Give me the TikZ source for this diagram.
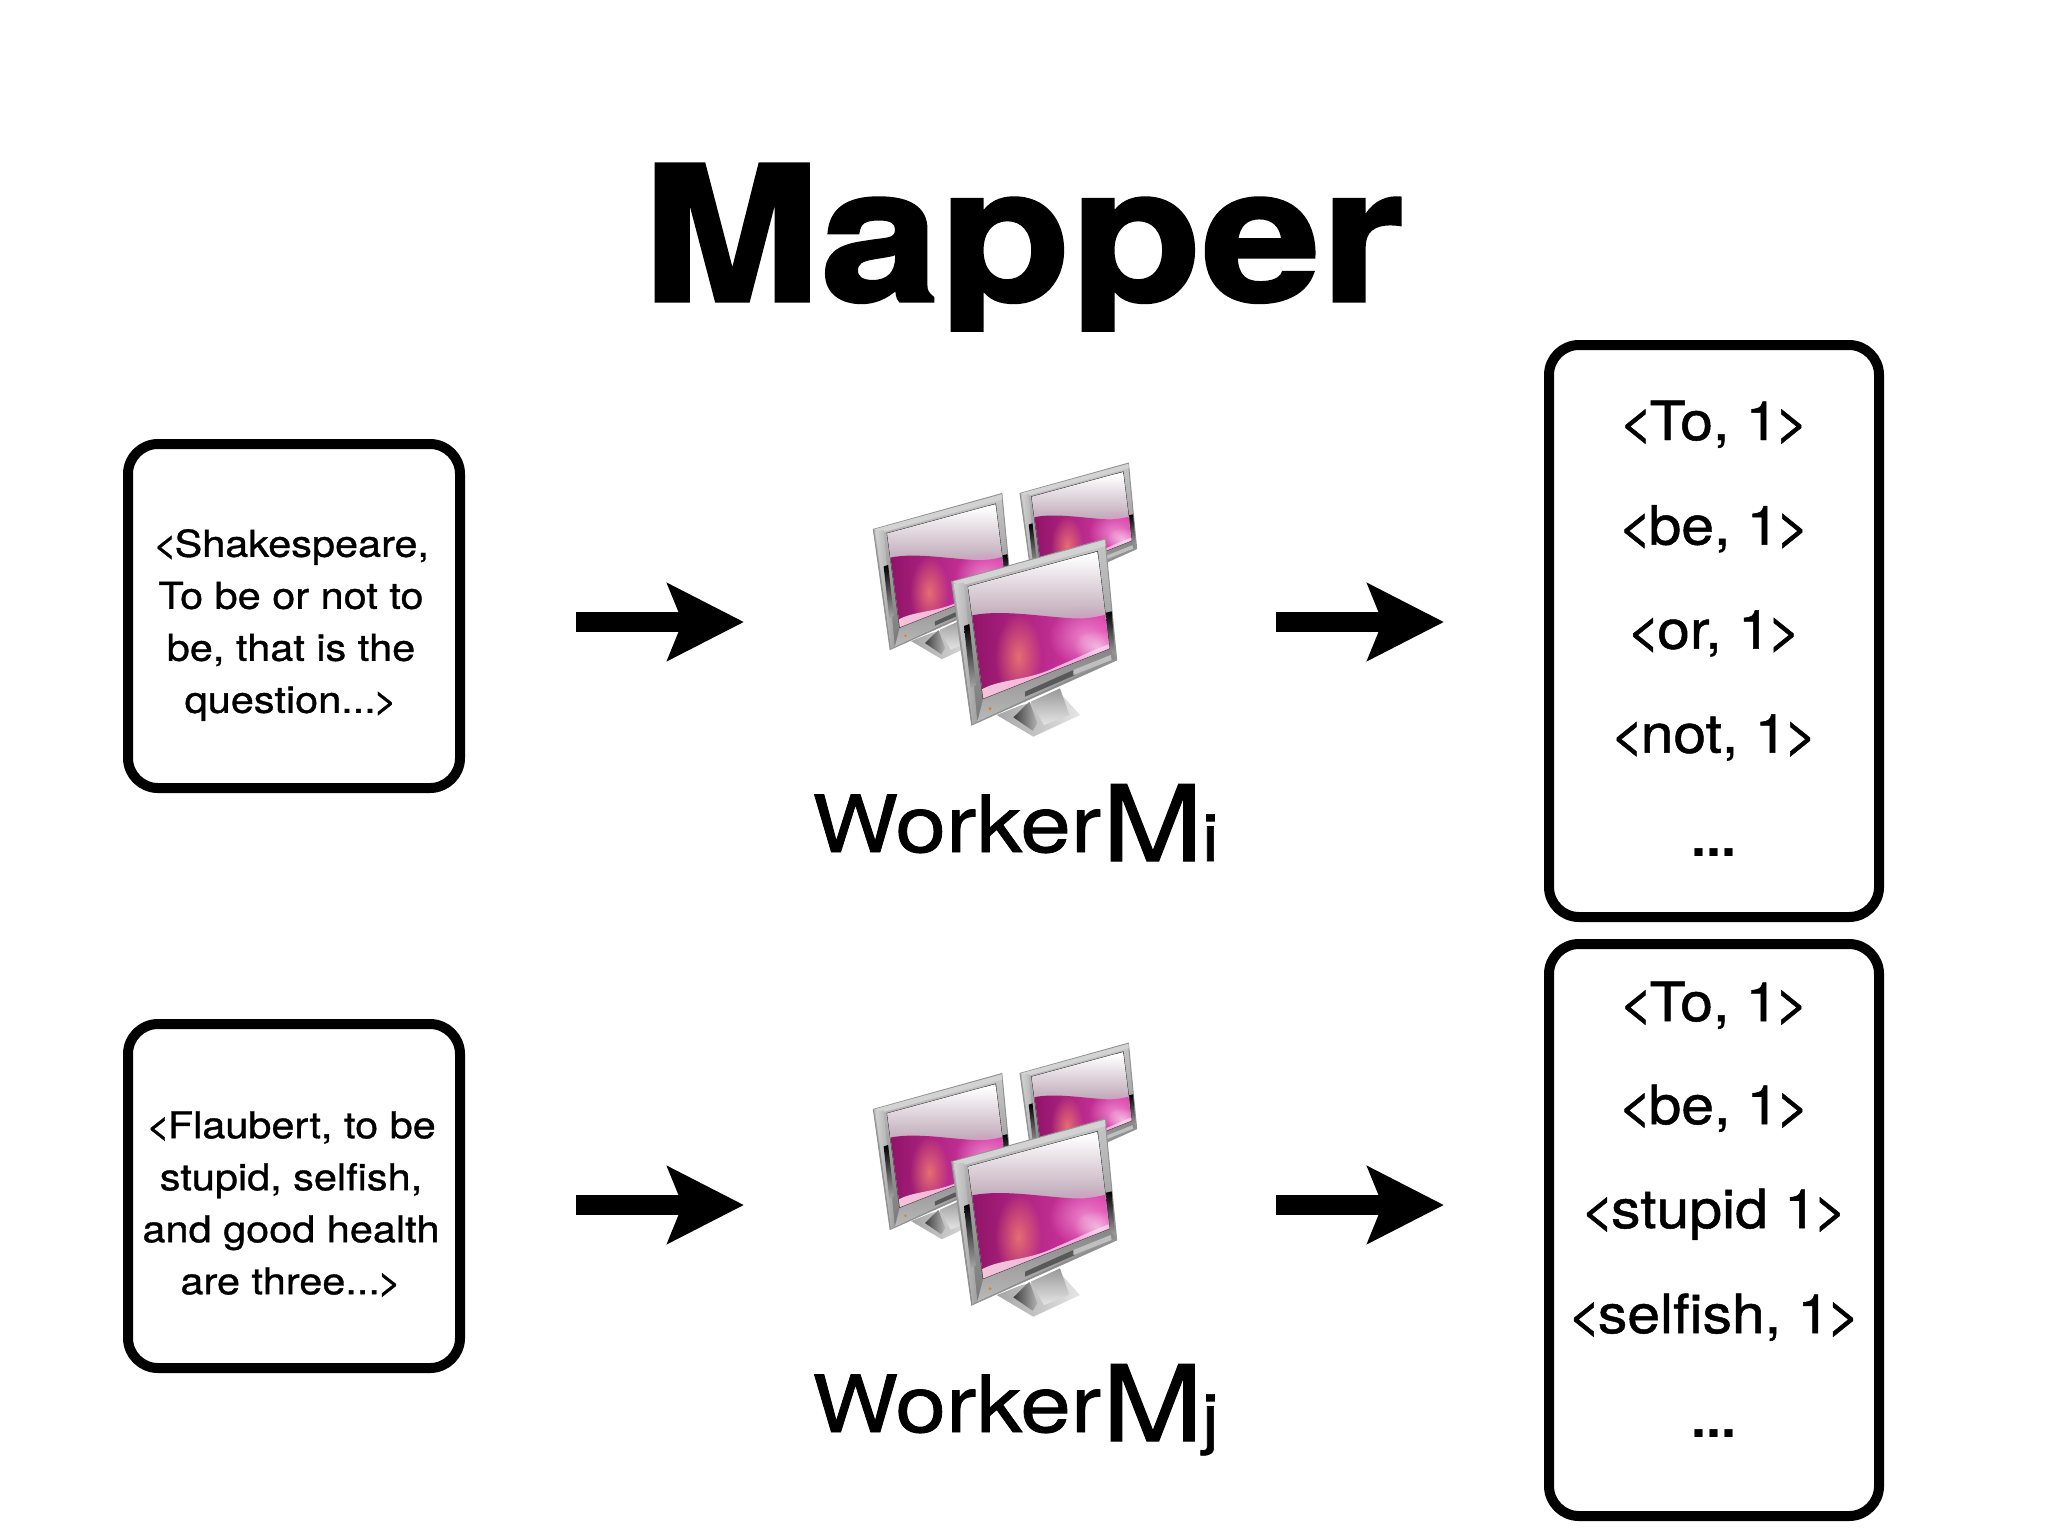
\documentclass[tikz,border=0pt]{standalone}
\usepackage{fontspec}
\setmainfont{TeX Gyre Heros}
\newfontfamily\titlefont[FakeBold=1.6,FakeStretch=1.14]{TeX Gyre Heros Bold}
\newfontfamily\bodyfont[FakeBold=0.9,FakeStretch=1.12]{TeX Gyre Heros}
\newfontfamily\bigfont[FakeBold=0.9,FakeStretch=1.09]{TeX Gyre Heros}
\newfontfamily\workerfont[FakeBold=1.0,FakeStretch=1.15]{TeX Gyre Heros}
\newfontfamily\dotfont{TeX Gyre Heros Bold}
\usetikzlibrary{arrows.meta,fadings}
\tikzfading[name=softglow,inner color=transparent!0,outer color=transparent!100]
\definecolor{bezA}{HTML}{C8C8C8}
\definecolor{bezB}{HTML}{767676}
\definecolor{magA}{HTML}{8E1266}
\definecolor{magB}{HTML}{E23FAF}
\definecolor{paleA}{HTML}{F3C4DA}
\definecolor{paleB}{HTML}{F5806E}
\definecolor{paleC}{HTML}{F6A6E0}
\newcommand{\la}{<\kern-0.07em}
\newcommand{\ra}{\kern-0.07em>}
\tikzset{
  textbox/.style={draw=black,line width=5pt,rounded corners=15pt,align=center,inner sep=0pt,fill=white},
  smalltxt/.style={font=\bodyfont\fontsize{18.5}{26}\selectfont,align=center,inner sep=0pt},
  bigtxt/.style={font=\bigfont\fontsize{27}{27}\selectfont,align=center,inner sep=0pt,anchor=base},
  dotstxt/.style={font=\dotfont\fontsize{27}{27}\selectfont,inner sep=0pt,anchor=base},
  workertxt/.style={font=\workerfont\fontsize{39.5}{40}\selectfont,inner sep=0pt,anchor=base west},
  blockarrow/.style={line width=10pt,-{Stealth[length=38pt,width=38pt,inset=7.3pt]}},
  glow/.style={path fading=softglow,fit fading=true},
}
\newcommand{\mymonitor}{%
  % stand
  \shade[left color=gray!70,right color=gray!20] (470,825) -- (545,795) -- (670,770) -- (720,825) -- (580,890) -- cycle;
  \shade[left color=black!75,right color=gray!60] (520,832) -- (568,785) -- (592,850) -- (578,872) -- cycle;
  \shade[top color=gray!80,bottom color=gray!20] (572,785) -- (660,745) -- (688,825) -- (612,855) -- cycle;
  % bezel
  \shade[top color=bezA,bottom color=bezB,draw=gray!85,line width=0.5pt]
     (335,425) -- (795,297) -- (830,660) -- (395,855) -- cycle;
  \fill[bezA!80!white] (338,425) -- (795,300) -- (797,318) -- (358,438) -- cycle;
  \shade[left color=gray!35,right color=gray!75] (342,432) -- (372,428) -- (412,845) -- (397,853) -- cycle;
  \shade[top color=black,bottom color=gray!70] (372,558) -- (388,552) -- (408,735) -- (392,745) -- cycle;
  \shade[top color=black,bottom color=gray!80] (798,518) -- (815,514) -- (825,640) -- (808,640) -- cycle;
  \shade[top color=gray!95,bottom color=gray!55] (430,775) -- (808,625) -- (826,655) -- (412,845) -- cycle;
  \fill[gray!70!black] (555,755) -- (700,690) -- (705,705) -- (555,770) -- cycle;
  \fill[gray!50] (700,690) -- (812,645) -- (815,660) -- (700,705) -- cycle;
  \fill[orange!80!gray] (450,806) circle (5);
  \draw[gray!35!black,line width=0.6pt] (385,440) -- (772,335) -- (808,625) -- (430,775) -- cycle;
  % screen
  \begin{scope}
    \clip (385,440) -- (772,335) -- (808,625) -- (430,775) -- cycle;
    \fill[white] (380,330) rectangle (815,780);
    \shade[top color=white,middle color=magA!12!white,bottom color=magA!35!gray!55!white]
       (380,345) -- (815,345) -- (815,545) -- (380,545) -- cycle;
    \shade[left color=magA,middle color=magA!50!magB,right color=magB]
       (380,530) .. controls (470,505) and (600,530) .. (700,535) .. controls (750,538) and (790,525) .. (815,520) -- (815,780) -- (380,780) -- cycle;
    \fill[magB!60!white,glow,opacity=0.9] (735,590) ellipse (110 and 90);
    \fill[paleB,glow,opacity=0.8] (535,650) ellipse (70 and 130);
    \shade[left color=paleA,middle color=paleB,right color=paleC]
       (422,750) .. controls (480,715) and (560,725) .. (650,680) .. controls (720,650) and (770,625) .. (815,610) -- (815,660) -- (430,800) -- cycle;
    \fill[white,glow,opacity=0.55] (770,620) ellipse (70 and 50);
  \end{scope}
}
\newcommand{\mygroup}{%
  \begin{scope}[shift={(540,160)},scale=0.707,shift={(-335,-425)}]\mymonitor\end{scope}
  \begin{scope}[shift={(100,268)},scale=0.838,shift={(-335,-425)}]\mymonitor\end{scope}
  \mymonitor
}
\begin{document}
\begin{tikzpicture}[x=0.5pt,y=-0.5pt]
\useasboundingbox (0,0) rectangle (2048,1536);
\fill[white] (0,0) rectangle (2048,1536);
\begin{scope}
  \clip (600,100) rectangle (1450,331);
  \node[inner sep=0pt,anchor=base] (title) at (1023,301) {\titlefont\fontsize{94}{94}\selectfont Mapper};
\end{scope}

\node[textbox,minimum width=166pt,minimum height=172pt] (inA) at (294,616) {};
\node[smalltxt] (inAt) at (291,625) {\la Shakespeare,\\To be or not to\\be, that is the\\question...\ra};
\node[textbox,minimum width=166pt,minimum height=172pt] (inB) at (294,1196) {};
\node[smalltxt] (inBt) at (291,1204) {\la Flaubert, to be\\stupid, selfish,\\and good health\\are three...\ra};

\begin{scope}[shift={(840,440)},x=0.16667pt,y=-0.16667pt]\mygroup\end{scope}
\begin{scope}[shift={(840,1020)},x=0.16667pt,y=-0.16667pt]\mygroup\end{scope}
\node[workertxt] (wA) at (812,852) {Worker\kern0.5pt\raisebox{-4.5pt}{\fontsize{52.7}{53}\selectfont M\kern-0.5pt\fontsize{33}{33}\selectfont i}};
\node[workertxt] (wB) at (812,1432) {Worker\kern0.5pt\raisebox{-4.5pt}{\fontsize{52.7}{53}\selectfont M\kern-0.5pt\fontsize{33}{33}\selectfont j}};

\node[textbox,minimum width=165pt,minimum height=286pt] (outA) at (1714,631) {};
\node[bigtxt] (oA1) at (1714,440) {\la To, 1\ra};
\node[bigtxt] (oA2) at (1714,544.5) {\la be, 1\ra};
\node[bigtxt] (oA3) at (1714,648.6) {\la or, 1\ra};
\node[bigtxt] (oA4) at (1714,752.7) {\la not, 1\ra};
\node[dotstxt] (oA5) at (1714,856.7) {...};
\node[textbox,minimum width=165pt,minimum height=286pt] (outB) at (1714,1230) {};
\node[bigtxt] (oB1) at (1714,1021) {\la To, 1\ra};
\node[bigtxt] (oB2) at (1714,1124) {\la be, 1\ra};
\node[bigtxt] (oB3) at (1714,1228) {\la stupid 1\ra};
\node[bigtxt] (oB4) at (1714,1333) {\la selfish, 1\ra};
\node[dotstxt] (oB5) at (1714,1437) {...};

\coordinate (a1s) at (576,622); \coordinate (a1e) at (744,622);
\coordinate (a2s) at (1276,622); \coordinate (a2e) at (1444,622);
\coordinate (a3s) at (576,1205); \coordinate (a3e) at (744,1205);
\coordinate (a4s) at (1276,1205); \coordinate (a4e) at (1444,1205);
\draw[blockarrow] (a1s) -- (a1e);
\draw[blockarrow] (a2s) -- (a2e);
\draw[blockarrow] (a3s) -- (a3e);
\draw[blockarrow] (a4s) -- (a4e);
\end{tikzpicture}
\end{document}
